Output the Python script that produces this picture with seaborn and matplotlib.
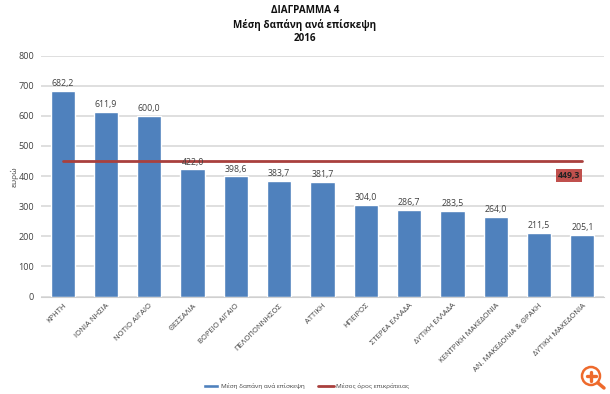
import matplotlib
matplotlib.use("Agg")
import matplotlib.pyplot as plt
import pandas as pd
import seaborn as sns
from matplotlib.patches import Circle

regions = ["ΚΡΗΤΗ", "ΙΟΝΙΑ ΝΗΣΙΑ", "ΝΟΤΙΟ ΑΙΓΑΙΟ", "ΘΕΣΣΑΛΙΑ", "ΒΟΡΕΙΟ ΑΙΓΑΙΟ",
           "ΠΕΛΟΠΟΝΝΗΣΟΣ", "ΑΤΤΙΚΗ", "ΗΠΕΙΡΟΣ", "ΣΤΕΡΕΑ ΕΛΛΑΔΑ", "ΔΥΤΙΚΗ ΕΛΛΑΔΑ",
           "ΚΕΝΤΡΙΚΗ ΜΑΚΕΔΟΝΙΑ", "ΑΝ. ΜΑΚΕΔΟΝΙΑ & ΘΡΑΚΗ", "ΔΥΤΙΚΗ ΜΑΚΕΔΟΝΙΑ"]
spending = [682.2, 611.9, 600.0, 422.0, 398.6, 383.7, 381.7, 304.0, 286.7, 283.5, 264.0, 211.5, 205.1]
country_mean = [449.3] * len(regions)
y_ticks = [0, 100, 200, 300, 400, 500, 600, 700, 800]

df = pd.DataFrame({"region": regions, "spending": spending, "mean": country_mean})

sns.set_style("white")
plt.rcParams["font.family"] = ["Open Sans", "DejaVu Sans"]

fig = plt.figure(figsize=(6.1, 3.94), dpi=100)
ax = fig.add_axes([41 / 610, 1 - 296.5 / 394, 563 / 610, 241 / 394])

# Gridlines
ax.set_axisbelow(True)
ax.yaxis.grid(True, color="#d9d9d9", linewidth=1.2)

# Bars and country mean
sns.barplot(data=df, x="region", y="spending", color="#4f81bd", saturation=1, width=0.56,
            ax=ax, label="Μέση δαπάνη ανά επίσκεψη")
sns.lineplot(data=df, x="region", y="mean", color="#a9403d", linewidth=2, ax=ax,
             label="Μέσος όρος επικράτειας")

for i, v in enumerate(spending):
    ax.text(i, v + 9, f"{v:.1f}".replace(".", ","), ha="center", va="bottom",
            fontsize=6.3, color="#404040")

# Mean value label
ax.text(12 - 0.3, country_mean[-1] - 49, "449,3", ha="center", va="center", fontsize=6.3,
        fontweight="bold", color="#222222",
        bbox=dict(boxstyle="square,pad=0.22", facecolor="#c0504d", edgecolor="none"))

ax.set_xlim(-0.5, 12.5)
ax.set_ylim(0, 800)
ax.set_yticks(y_ticks)
ax.set_xlabel("")
ax.set_ylabel("ευρώ", fontsize=6, color="#404040")
ax.yaxis.set_label_coords(-0.04, 0.496)
ax.tick_params(axis="y", length=0, labelsize=6.5, labelcolor="#404040", pad=5)
ax.tick_params(axis="x", length=0, labelsize=5.5, labelcolor="#404040", pad=4)
plt.setp(ax.get_xticklabels(), rotation=45, ha="right", rotation_mode="anchor")
sns.despine(ax=ax, left=True, top=True, right=True)
ax.spines["bottom"].set_color("#d0d0d0")

# Legend, bars first
handles, labels = ax.get_legend_handles_labels()
order = [labels.index("Μέση δαπάνη ανά επίσκεψη"), labels.index("Μέσος όρος επικράτειας")]
ax.legend([handles[i] for i in order], [labels[i] for i in order], loc="center",
          bbox_to_anchor=((306 - 41) / 563, -0.372), ncol=2, frameon=False,
          fontsize=4.6, labelcolor="#404040", columnspacing=2, handlelength=2.6, handletextpad=0.3)

# Title
fig.text(0.5, 1 - 5 / 394, "ΔΙΑΓΡΑΜΜΑ 4\nΜέση δαπάνη ανά επίσκεψη\n2016", ha="center", va="top",
         fontsize=7.1, fontweight="bold", color="#111111", linespacing=1.3)

# Zoom icon in the corner
orange = "#ee6a2c"
icon = fig.add_axes([0, 0, 1, 1], facecolor="none")
icon.set_xlim(0, 610)
icon.set_ylim(394, 0)
icon.axis("off")
icon.add_patch(Circle((591, 376), 9, facecolor="white", edgecolor=orange, linewidth=1.8))
icon.plot([598, 604], [383, 388], color=orange, linewidth=2.5, solid_capstyle="round")
icon.plot([586.5, 595.5], [376, 376], color=orange, linewidth=2.4)
icon.plot([591, 591], [371.5, 380.5], color=orange, linewidth=2.4)

fig.savefig("out.png", dpi=100)
